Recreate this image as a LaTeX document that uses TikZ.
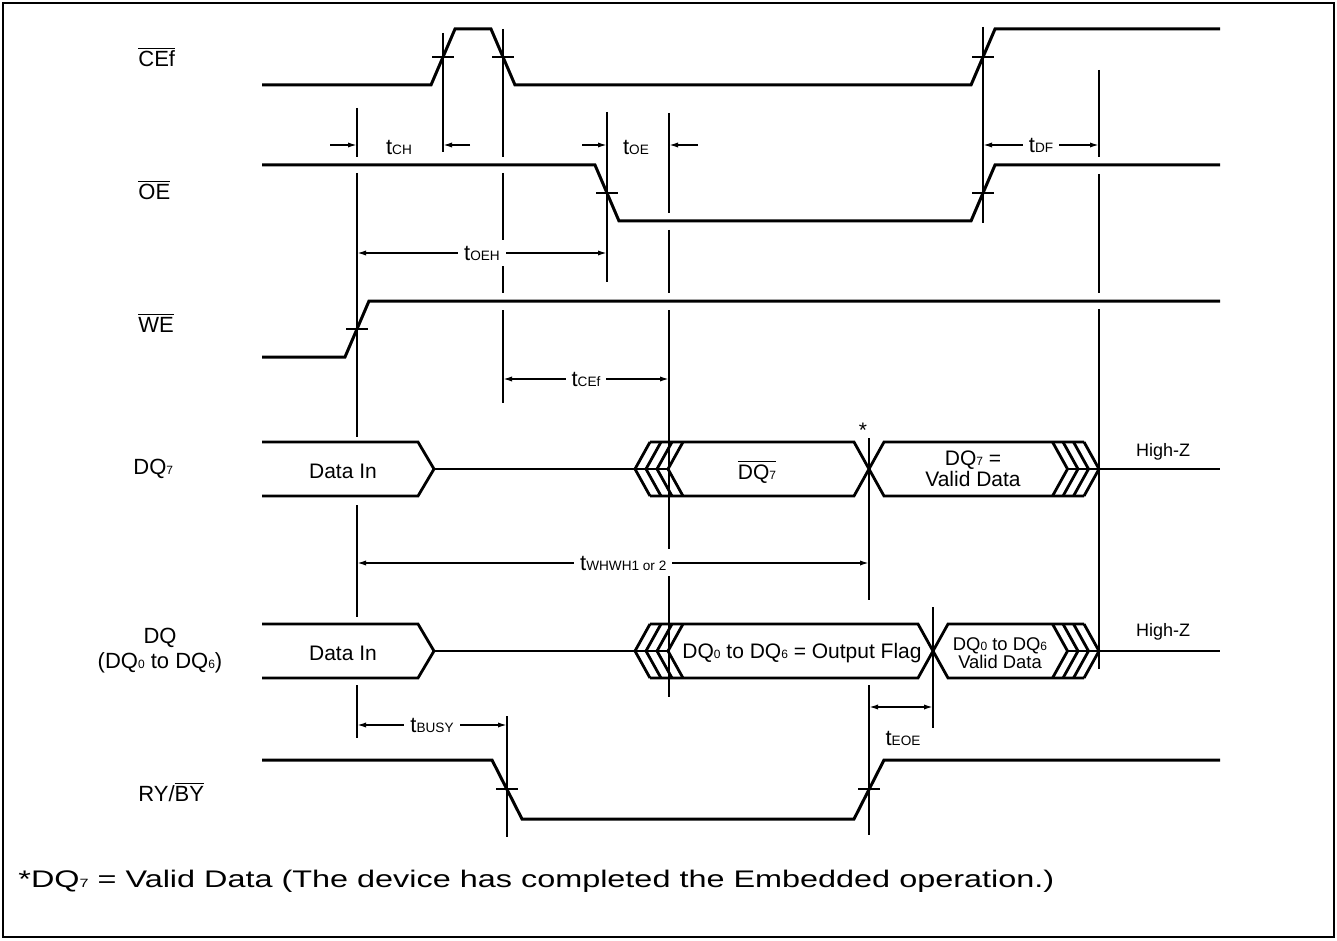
\documentclass[tikz,border=0pt]{standalone}
\usepackage{fontspec}
\setmainfont{Liberation Sans}
\usepackage{graphicx}
\usetikzlibrary{arrows.meta, positioning, calc}
\tikzset{
	sig/.style={line width=1.5pt, line join=miter},
	bus/.style={line width=1.4pt, line join=miter},
	vline/.style={line width=1pt},
	tickmk/.style={line width=1pt},
	dim/.style={line width=0.8pt},
	tlabel/.style={fill=white, inner sep=3pt, font=\fontsize{11}{12}\selectfont},
	siglabel/.style={anchor=west, inner sep=0pt, font=\fontsize{11}{13}\selectfont},
	buslabel/.style={inner sep=0pt, font=\fontsize{10.5}{9.5}\selectfont, align=center}
}
\newcommand{\tsub}[1]{t{\fontsize{6.8}{7}\selectfont #1}}
\newcommand{\dqsub}[1]{{\fontsize{6}{7}\selectfont #1}}

\begin{document}
\begin{tikzpicture}[x=0.5pt, y=-0.5pt, >={Latex[length=4.5pt,width=2.6pt]}]
	% Frame and page size
	\useasboundingbox (0,0) rectangle (1337,941);
	\draw[line width=0.6pt] (3,3) rectangle (1334,937);
	
	% Signal names
	\node[siglabel] (cef_label) at (138,57) {$\overline{\mbox{CEf}}$};
	\node[siglabel] (oe_label) at (138,190) {$\overline{\mbox{OE}}$};
	\node[siglabel] (we_label) at (138,323) {$\overline{\mbox{WE}}$};
	\node[siglabel] (dq7_label) at (133,469) {DQ\dqsub{7}};
	\node[inner sep=0pt, align=center, font=\fontsize{11}{12.5}\selectfont] (dq_label) at (160,651) {DQ\\(DQ\dqsub{0} to DQ\dqsub{6})};
	\node[siglabel] (ry_label) at (138,792) {RY/$\overline{\mbox{BY}}$};
	
	% Control signals
	\draw[sig] (262,85) -- (431,85) -- (455,29) -- (491,29) -- (515,85) -- (971,85) -- (995,29) -- (1220,29);
	\draw[sig] (262,165) -- (595,165) -- (619,221) -- (971,221) -- (995,165) -- (1220,165);
	\draw[sig] (262,357) -- (345,357) -- (369,301) -- (1220,301);
	\draw[sig] (262,760) -- (492,760) -- (522,819) -- (854,819) -- (884,760) -- (1220,760);
	
	% Crossing marks on the edges
	\foreach \x/\y in {443/57, 503/57, 983/57, 607/193, 983/193, 357/329, 507/789, 869/789}
		\draw[tickmk] (\x-11,\y) -- (\x+11,\y);
	
	% Timing reference lines (broken where they meet a signal)
	\foreach \x/\a/\b in {357/108/157, 357/173/437, 357/505/617, 357/685/738,
		443/33/152, 503/29/157, 503/173/293, 503/310/403, 607/112/282,
		669/113/213, 669/230/293, 669/310/549, 669/576/697,
		869/438/600, 869/685/835, 933/607/728, 507/716/837,
		983/27/223, 1099/70/157, 1099/174/293, 1099/309/669}
		\draw[vline] (\x,\a) -- (\x,\b);
	
	% Data buses DQ7 and DQ0-DQ6
	\foreach \yc/\xc in {469/869, 651/933} {
		\draw[bus] (262,\yc-27) -- (418,\yc-27) -- (434,\yc) -- (418,\yc+27) -- (262,\yc+27);
		\draw[bus] (434,\yc) -- (668,\yc);
		\foreach \i in {0,...,3}
			\draw[bus] (650+11*\i,\yc-27) -- (635+11*\i,\yc) -- (650+11*\i,\yc+27);
		\draw[bus] (650,\yc-27) -- (\xc-15,\yc-27) -- (\xc+15,\yc+27) -- (1084,\yc+27);
		\draw[bus] (650,\yc+27) -- (\xc-15,\yc+27) -- (\xc+15,\yc-27) -- (1084,\yc-27);
		\foreach \i in {0,...,3}
			\draw[bus] (1052.5+10.5*\i,\yc-27) -- (1067.5+10.5*\i,\yc) -- (1052.5+10.5*\i,\yc+27);
		\draw[bus] (1067.5,\yc) -- (1220,\yc);
	}
	
	% Bus contents
	\node[buslabel] (din7) at (343,471) {Data In};
	\node[buslabel] (din) at (343,653) {Data In};
	\node[buslabel] (dq7_inv) at (757,472) {$\overline{\mbox{DQ\dqsub{7}}}$};
	\node[buslabel] (dq7_valid) at (973,469) {DQ\dqsub{7} =\\Valid Data};
	\node[buslabel] (out_flag) at (802,653) {DQ\dqsub{0} to DQ\dqsub{6} = Output Flag};
	\node[buslabel, font=\fontsize{9.2}{9}\selectfont] (dq_valid) at (1000,653) {DQ\dqsub{0} to DQ\dqsub{6}\\Valid Data};
	\node[buslabel, font=\fontsize{9}{10}\selectfont] (hz7) at (1163,452) {High-Z};
	\node[buslabel, font=\fontsize{9}{10}\selectfont] (hz) at (1163,632) {High-Z};
	\node[buslabel] (star) at (863,430) {*};
	
	% Timing parameters
	\draw[dim, ->] (330,145) -- (357,145);
	\draw[dim, ->] (470,145) -- (443,145);
	\node[tlabel] (t_ch) at (399,147) {\tsub{CH}};
	\draw[dim, ->] (582,145) -- (607,145);
	\draw[dim, ->] (698,145) -- (669,145);
	\node[tlabel] (t_oe) at (636,147) {\tsub{OE}};
	\draw[dim, <->] (983,145) -- node[tlabel] (t_df) {\tsub{DF}} (1099,145);
	\draw[dim, <->] (357,253) -- node[tlabel] (t_oeh) {\tsub{OEH}} (607,253);
	\draw[dim, <->] (503,379) -- node[tlabel] (t_cef) {\tsub{CEf}} (669,379);
	\draw[dim, <->] (357,563) -- node[tlabel, pos=0.52] (t_whwh) {\tsub{WHWH1 or 2}} (869,563);
	\draw[dim, <->] (357,725) -- node[tlabel] (t_busy) {\tsub{BUSY}} (507,725);
	\draw[dim, <->] (869,707) -- (933,707);
	\node[tlabel] (t_eoe) at (903,738) {\tsub{EOE}};
	
	% Footnote
	\node[anchor=west, inner sep=0pt, font=\fontsize{12}{13}\selectfont] (note) at (18,881)
		{\scalebox{1.35}[1]{*DQ\dqsub{7} = Valid Data (The device has completed the Embedded operation.)}};
\end{tikzpicture}
\end{document}
